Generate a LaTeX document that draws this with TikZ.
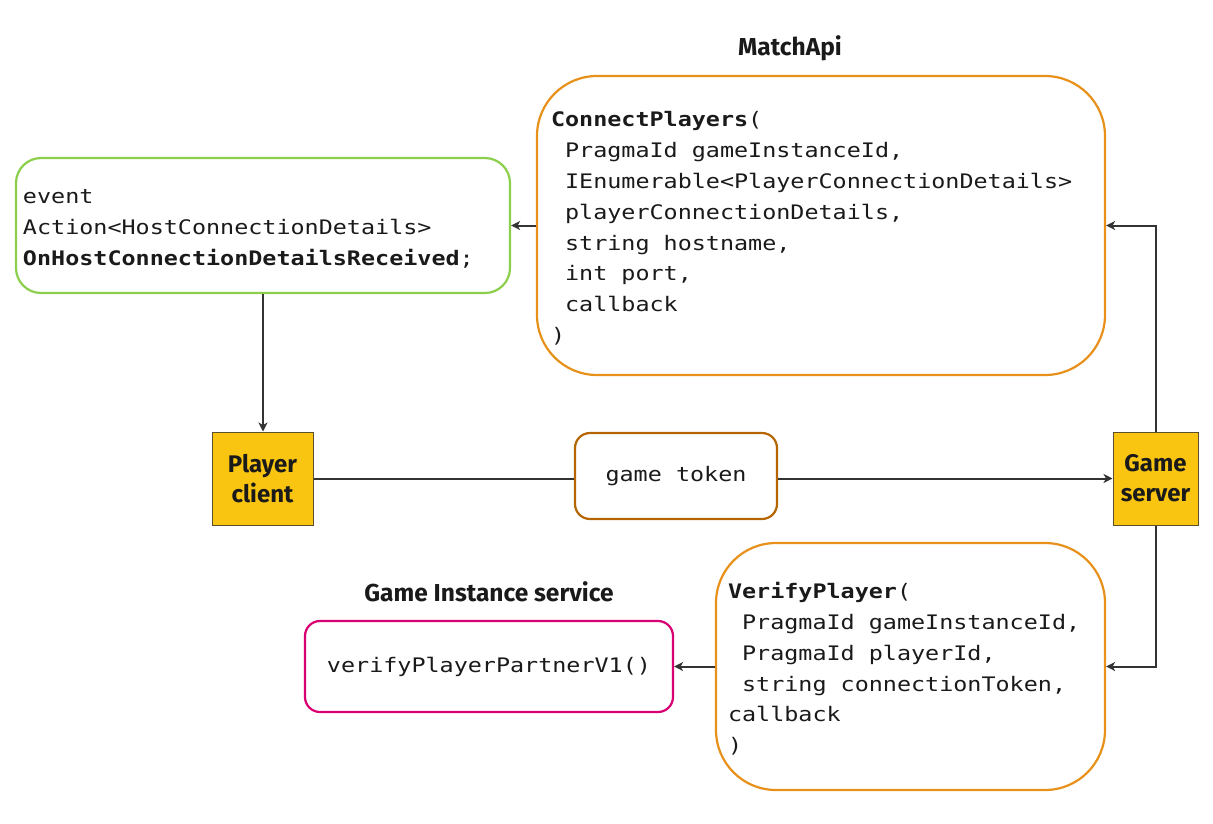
\documentclass[tikz,border=0pt]{standalone}
\usepackage{fontspec}
\newfontfamily\monof{DejaVu Sans Mono}[FakeStretch=1.17]
\newfontfamily\labf{Fira Sans}
\usetikzlibrary{arrows.meta}
\definecolor{cgreen}{HTML}{8CCF4D}
\definecolor{corange}{HTML}{E8911A}
\definecolor{cbrown}{HTML}{B46504}
\definecolor{cpink}{HTML}{D80073}
\definecolor{cyellow}{HTML}{F9C511}
\definecolor{cline}{HTML}{333333}
\definecolor{ctext}{HTML}{1A1A1A}
\newcommand\ind{\mbox{}\ }
\newcommand\topfix{\rule{0pt}{21pt}}
\tikzset{
  codebox/.style={draw, line width=2.2pt, fill=white, align=left, inner ysep=0pt,
    font=\monof\fontsize{20}{30.8}\selectfont, text=ctext,
    execute at begin node={\spaceskip=\fontdimen2\font\xspaceskip=\fontdimen2\font\relax}},
  actor/.style={draw=cline!80!cyellow, line width=1pt, fill=cyellow, align=center,
    font=\labf\bfseries\fontsize{24}{30}\selectfont, text=ctext},
  title/.style={font=\labf\bfseries\fontsize{24.5}{28}\selectfont, text=ctext},
  conn/.style={draw=cline, line width=2pt},
  arr/.style={conn, -{Stealth[length=9pt,width=9pt,inset=2.5pt]}}
}
\begin{document}
\begin{tikzpicture}[x=1pt,y=-1pt]
\useasboundingbox (0,0) rectangle (1213,823);
% boxes
\node[codebox, draw=cgreen, rounded corners=25, minimum height=135, text width=480, inner xsep=7] (ev) at (263,225.5)
  {\topfix event\\Action<HostConnectionDetails>\\\textbf{OnHostConnectionDetailsReceived};};
\node[codebox, draw=corange, rounded corners=60, minimum height=299, text width=540, inner xsep=14] (mb) at (821,225.5)
  {\topfix\textbf{ConnectPlayers}(\\\ind PragmaId gameInstanceId,\\\ind IEnumerable<PlayerConnectionDetails>\\\ind playerConnectionDetails,\\\ind string hostname,\\\ind int port,\\\ind callback\\)};
\node[title] (mt) at (790,48) {MatchApi};
\node[actor, minimum width=101, minimum height=93] (pc) at (262.5,478.5) {Player\\client};
\node[actor, minimum width=85, minimum height=93] (gs) at (1155.5,478.5) {Game\\server};
\node[codebox, draw=cbrown, rounded corners=15, minimum width=202, minimum height=86, align=center] (tok) at (676,476) {game token};
\node[codebox, draw=corange, rounded corners=60, minimum height=247, text width=365, inner xsep=12] (vp) at (910.5,666.5)
  {\topfix\textbf{VerifyPlayer}(\\\ind PragmaId gameInstanceId,\\\ind PragmaId playerId,\\\ind string connectionToken,\\callback\\)};
\node[codebox, draw=cpink, rounded corners=15, minimum width=368, minimum height=91, align=center] (pk) at (489,666.5) {verifyPlayerPartnerV1()};
\node[title] (gt) at (489,592) {Game Instance service};
% connectors
\draw[arr] (ev.south) -- (ev.south |- pc.north);
\draw[conn] (pc.east) -- (pc.east -| tok.west);
\draw[arr] (tok.east |- pc.east) -- (gs.west);
\draw[arr] (gs.north) |- (mb.east);
\draw[arr] (mb.west) -- (ev.east);
\draw[arr] (gs.south) |- (vp.east);
\draw[arr] (vp.west) -- (pk.east);
\end{tikzpicture}
\end{document}
